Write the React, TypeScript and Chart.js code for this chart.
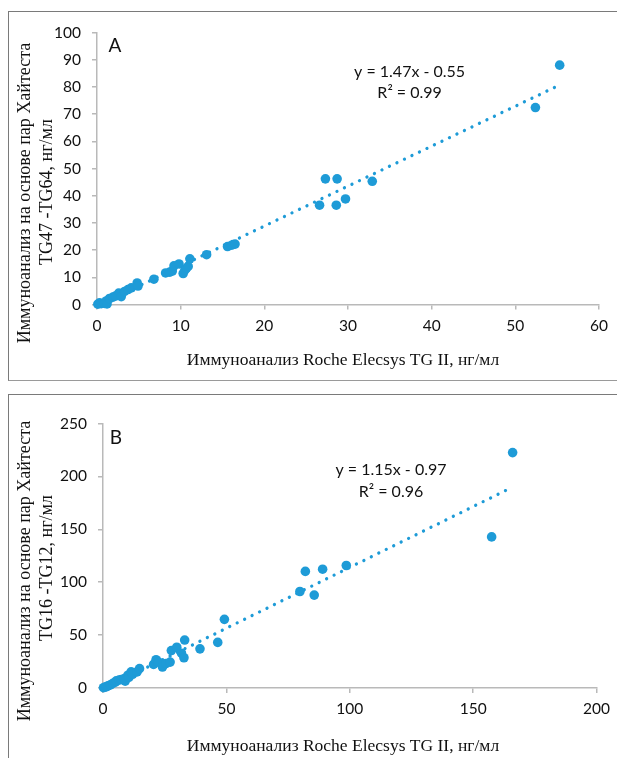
import React, { useEffect, useRef } from 'react';
import { Chart, registerables } from 'chart.js';

Chart.register(...registerables);

// ---------- Panel A data ----------
const rocheA = [0.1, 0.3, 0.5, 0.9, 1.1, 1.2, 1.5, 1.9, 2.2, 2.6, 2.9, 3.3, 3.7, 4.1, 4.8, 4.9, 6.8, 8.2, 8.7, 9.0, 9.2, 9.8, 10.3, 10.5, 10.7, 10.9, 11.1, 13.1, 15.6, 16.1, 16.5, 26.6, 27.3, 28.6, 28.7, 29.7, 32.9, 52.4, 55.3];
const hytestA = [0.1, 0.6, 0.3, 0.4, 1.3, 0.2, 2.2, 2.7, 3.1, 4.2, 2.9, 4.8, 5.5, 6.1, 7.9, 6.8, 9.3, 11.6, 11.9, 12.3, 14.2, 14.9, 11.4, 12.6, 13.4, 14.0, 16.8, 18.3, 21.3, 21.8, 22.2, 36.5, 46.2, 36.5, 46.2, 38.8, 45.3, 72.4, 88.0];
const trendXA = [0, 55.3];
const trendYA = [-0.55, 80.7];
const xTicksA = [0, 10, 20, 30, 40, 50, 60];
const yTicksA = [0, 10, 20, 30, 40, 50, 60, 70, 80, 90, 100];
const eqA = 'y = 1.47x - 0.55';
const r2A = 'R² = 0.99';
const yTitleA = ['Иммуноанализ на основе пар Хайтеста', 'TG47 -TG64, нг/мл'];

// ---------- Panel B data ----------
const rocheB = [0.2, 0.8, 1.5, 2.0, 3.0, 4.0, 5.0, 5.4, 6.5, 7.4, 8.7, 9.0, 10.1, 10.5, 11.4, 12.0, 13.8, 14.8, 20.5, 21.5, 22.5, 24.1, 25.5, 27.2, 27.7, 29.9, 31.8, 32.8, 33.1, 39.3, 46.5, 49.2, 79.8, 82.0, 85.6, 89.0, 98.6, 157.5, 166.0];
const hytestB = [0.3, 0.9, 1.2, 2.1, 3.0, 4.4, 5.5, 6.8, 7.5, 8.1, 9.0, 6.5, 12.1, 10.0, 15.2, 13.0, 15.2, 18.3, 22.3, 26.7, 24.5, 19.8, 23.0, 24.5, 35.4, 38.5, 32.9, 28.6, 45.3, 37.0, 43.1, 64.9, 91.2, 110.2, 87.8, 112.3, 115.8, 142.8, 222.5];
const trendXB = [0, 166.0];
const trendYB = [-0.97, 189.9];
const xTicksB = [0, 50, 100, 150, 200];
const yTicksB = [0, 50, 100, 150, 200, 250];
const eqB = 'y = 1.15x - 0.97';
const r2B = 'R² = 0.96';
const yTitleB = ['Иммуноанализ на основе пар Хайтеста', 'TG16 -TG12, нг/мл'];

const xTitle = 'Иммуноанализ Roche Elecsys TG II, нг/мл';

const BLUE = 'rgb(30,155,215)';
const AXIS = '#b9b9b9';
const SANS = 'Lato, "Open Sans", sans-serif';
const SERIF = '"Liberation Serif", "DejaVu Serif", serif';

type PanelCfg = {
  roche: number[];
  hytest: number[];
  trendX: number[];
  trendY: number[];
  xTicks: number[];
  yTicks: number[];
  letter: string;
  eq: string;
  r2: string;
  yTitle: string[];
  width: number;
  height: number;
  area: { left: number; right: number; top: number; bottom: number };
  letterPos: [number, number];
  eqPos: [number, number];
  r2Pos: [number, number];
  yTitlePos: [number, number][];
  xTitlePos: [number, number];
};

function makePlugin(cfg: PanelCfg) {
  return {
    id: 'panelText',
    afterDraw(chart: any) {
      const ctx = chart.ctx as CanvasRenderingContext2D;
      ctx.save();
      ctx.fillStyle = '#111';
      ctx.textAlign = 'center';
      ctx.textBaseline = 'middle';
      ctx.font = `19px ${SANS}`;
      ctx.fillText(cfg.letter, cfg.letterPos[0], cfg.letterPos[1]);
      ctx.font = `16px ${SANS}`;
      ctx.fillText(cfg.eq, cfg.eqPos[0], cfg.eqPos[1]);
      ctx.fillText(cfg.r2, cfg.r2Pos[0], cfg.r2Pos[1]);
      ctx.font = `17.5px ${SERIF}`;
      ctx.fillText(xTitle, cfg.xTitlePos[0], cfg.xTitlePos[1]);
      ctx.font = `18px ${SERIF}`;
      cfg.yTitle.forEach((t, i) => {
        ctx.save();
        ctx.translate(cfg.yTitlePos[i][0], cfg.yTitlePos[i][1]);
        ctx.rotate(-Math.PI / 2);
        ctx.fillText(t, 0, 0);
        ctx.restore();
      });
      ctx.restore();
    },
  };
}

function Panel({ cfg, style }: { cfg: PanelCfg; style: React.CSSProperties }) {
  const ref = useRef<HTMLCanvasElement>(null);
  useEffect(() => {
    if (!ref.current) return;
    const pts = cfg.roche.map((x, i) => ({ x, y: cfg.hytest[i] }));
    const trend = cfg.trendX.map((x, i) => ({ x, y: cfg.trendY[i] }));
    const xt = cfg.xTicks;
    const yt = cfg.yTicks;
    const chart = new Chart(ref.current, {
      type: 'scatter',
      data: {
        datasets: [
          {
            data: pts,
            backgroundColor: BLUE,
            borderColor: BLUE,
            borderWidth: 0,
            pointRadius: 4.8,
            pointHoverRadius: 4.8,
            clip: false,
          } as any,
          {
            type: 'line',
            data: trend,
            borderColor: BLUE,
            borderWidth: 3.3,
            borderDash: [0.01, 8.3],
            borderCapStyle: 'round',
            pointRadius: 0,
            fill: false,
            showLine: true,
            clip: false,
          } as any,
        ],
      },
      options: {
        animation: false,
        responsive: false,
        events: [],
        layout: {
          padding: {
            left: 0,
            top: cfg.area.top,
            right: cfg.width - cfg.area.right,
            bottom: 0,
          },
        },
        plugins: { legend: { display: false }, tooltip: { enabled: false } },
        scales: {
          x: {
            type: 'linear',
            min: xt[0],
            max: xt[xt.length - 1],
            afterFit: (s: any) => {
              s.height = cfg.height - cfg.area.bottom;
            },
            ticks: {
              stepSize: xt[1] - xt[0],
              color: '#111',
              font: { family: SANS, size: 15.5 },
              padding: 7,
            },
            grid: {
              display: true,
              drawOnChartArea: false,
              drawTicks: true,
              tickLength: 5,
              color: AXIS,
              lineWidth: 1.5,
            },
            border: { display: true, color: AXIS, width: 1.5 },
          },
          y: {
            type: 'linear',
            min: yt[0],
            max: yt[yt.length - 1],
            afterFit: (s: any) => {
              s.width = cfg.area.left;
            },
            ticks: {
              stepSize: yt[1] - yt[0],
              color: '#111',
              font: { family: SANS, size: 15.5 },
              padding: 11,
            },
            grid: {
              display: true,
              drawOnChartArea: false,
              drawTicks: true,
              tickLength: 5,
              color: AXIS,
              lineWidth: 1.5,
            },
            border: { display: true, color: AXIS, width: 1.5 },
          },
        },
      },
      plugins: [makePlugin(cfg)],
    } as any);
    return () => chart.destroy();
  }, [cfg]);
  return <canvas ref={ref} width={cfg.width} height={cfg.height} style={{ position: 'absolute', ...style }} />;
}

const cfgA: PanelCfg = {
  roche: rocheA,
  hytest: hytestA,
  trendX: trendXA,
  trendY: trendYA,
  xTicks: xTicksA,
  yTicks: yTicksA,
  letter: 'A',
  eq: eqA,
  r2: r2A,
  yTitle: yTitleA,
  width: 608,
  height: 368,
  area: { left: 88, right: 590, top: 20.5, bottom: 292.5 },
  letterPos: [106, 33.5],
  eqPos: [400.6, 59.7],
  r2Pos: [400.6, 81],
  yTitlePos: [
    [16.6, 181],
    [38, 180],
  ],
  xTitlePos: [334, 348],
};

const cfgB: PanelCfg = {
  roche: rocheB,
  hytest: hytestB,
  trendX: trendXB,
  trendY: trendYB,
  xTicks: xTicksB,
  yTicks: yTicksB,
  letter: 'B',
  eq: eqB,
  r2: r2B,
  yTitle: yTitleB,
  width: 608,
  height: 363,
  area: { left: 94, right: 590, top: 28.5, bottom: 293 },
  letterPos: [107, 43],
  eqPos: [382, 75],
  r2Pos: [382, 96.7],
  yTitlePos: [
    [16.6, 176],
    [38, 173],
  ],
  xTitlePos: [334, 351],
};

export default function App() {
  return (
    <div style={{ position: 'absolute', left: 0, top: 0, width: 617, height: 758, overflow: 'hidden', background: '#fff' }}>
      <div
        style={{
          position: 'absolute',
          left: 8,
          top: 11,
          width: 609,
          height: 370,
          boxSizing: 'border-box',
          borderLeft: '1px solid #7a7a7a',
          borderTop: '1px solid #7a7a7a',
          borderBottom: '1px solid #9a9a9a',
        }}
      />
      <div
        style={{
          position: 'absolute',
          left: 8,
          top: 394,
          width: 609,
          height: 400,
          boxSizing: 'border-box',
          borderLeft: '1px solid #7a7a7a',
          borderTop: '1px solid #7a7a7a',
        }}
      />
      <Panel cfg={cfgA} style={{ left: 9, top: 12 }} />
      <Panel cfg={cfgB} style={{ left: 9, top: 395 }} />
    </div>
  );
}
